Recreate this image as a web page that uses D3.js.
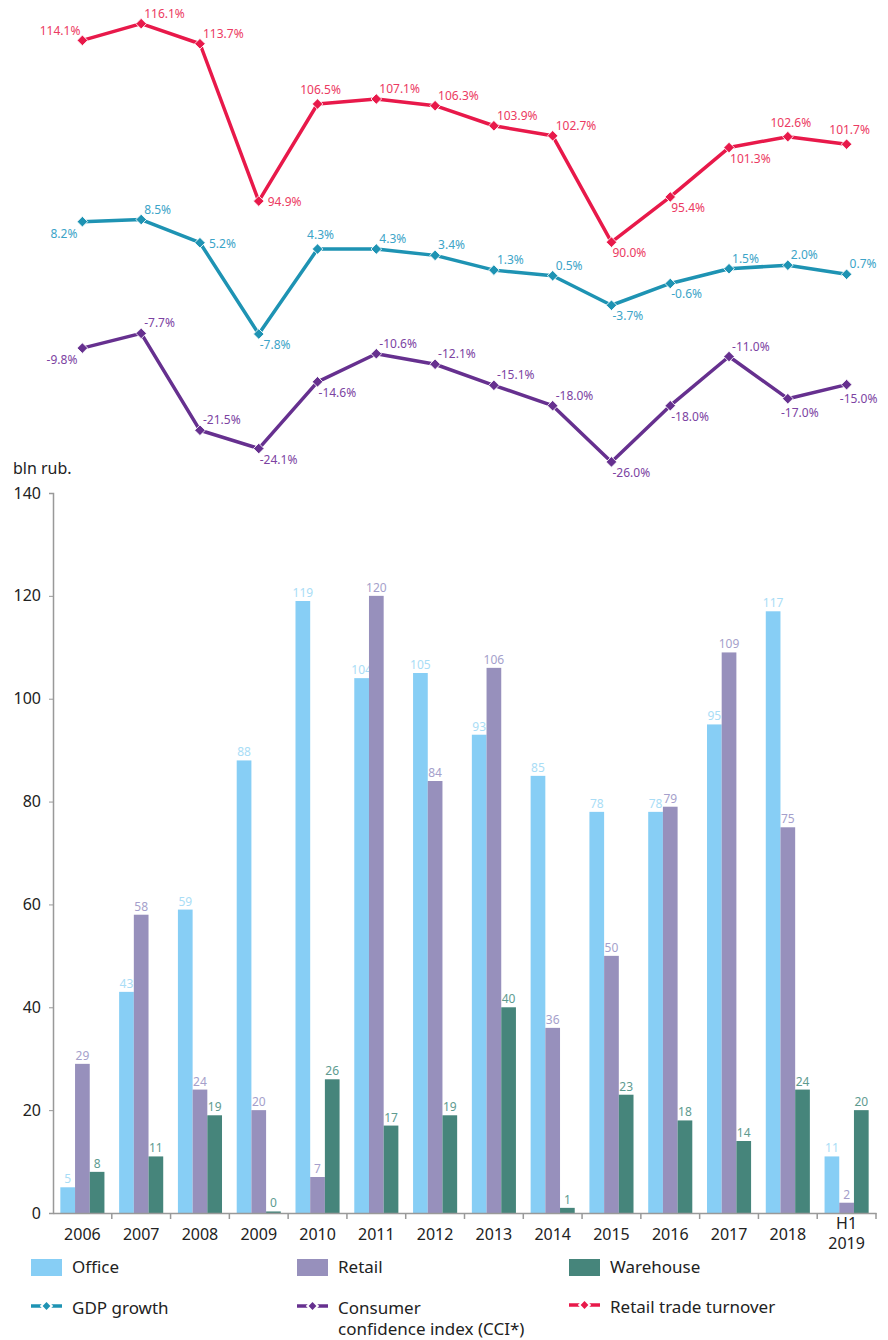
<!DOCTYPE html>
<html>
<head>
<meta charset="utf-8">
<script src="https://cdn.jsdelivr.net/npm/d3@7"></script>
<style>
body { margin: 0; background: #fff; }
svg { display: block; font-family: "Noto Sans", sans-serif; }
</style>
</head>
<body>
<svg></svg>
<script>
let years = ['2006','2007','2008','2009','2010','2011','2012','2013','2014','2015','2016','2017','2018','H1 2019']

let office    = [5, 43, 59, 88, 119, 104, 105, 93, 85, 78, 78, 95, 117, 11]
let retail    = [29, 58, 24, 20, 7, 120, 84, 106, 36, 50, 79, 109, 75, 2]
let warehouse = [8, 11, 19, 0.3, 26, 17, 19, 40, 1, 23, 18, 14, 24, 20]

let turnover = [114.1, 116.1, 113.7, 94.9, 106.5, 107.1, 106.3, 103.9, 102.7, 90.0, 95.4, 101.3, 102.6, 101.7]
let gdp      = [8.2, 8.5, 5.2, -7.8, 4.3, 4.3, 3.4, 1.3, 0.5, -3.7, -0.6, 1.5, 2.0, 0.7]
let cci      = [-9.8, -7.7, -21.5, -24.1, -14.6, -10.6, -12.1, -15.1, -18.0, -26.0, -18.0, -11.0, -17.0, -15.0]

let yTicks = [0, 20, 40, 60, 80, 100, 120, 140]

// where each point label sits relative to its marker
let turnoverPos = ['nw','ne','ne','e','n','ne','ne','ne','ne','se','se','se','n','n']
let gdpPos      = ['sw','ne','e','se','n','ne','ne','ne','ne','se','se','ne','ne','ne']
let cciPos      = ['sw','ne','ne','se','se','ne','ne','ne','ne','se','se','ne','s','s']

let width = 888
let height = 1340

let svg = d3.select('svg')
    .attr('width', width)
    .attr('height', height)

let x = d3.scaleBand()
    .domain(years)
    .range([53, 876])
    .padding(0)

let bw = x.bandwidth()

let xSub = d3.scaleBand()
    .domain(['office','retail','warehouse'])
    .range([bw * 0.125, bw * 0.875])

let y = d3.scaleLinear()
    .domain([0, 140])
    .range([1213, 493])

let yPct = d3.scaleLinear()
    .domain([-30, 10])
    .range([490, 209])

let yTurn = d3.scaleLinear()
    .domain([85, 120])
    .range([284, -9])

let barColors = { office: '#87CEF5', retail: '#9790BC', warehouse: '#46857B' }
let barLabelColors = { office: '#A9DDF6', retail: '#A59FCB', warehouse: '#5E9B90' }

let pct = (d) => d3.format('.1f')(d).replace('\u2212', '-') + '%'

// ---- bars ----
let barSeries = [
    { key: 'office', values: office },
    { key: 'retail', values: retail },
    { key: 'warehouse', values: warehouse }
]

let barGroup = svg.append('g')

barSeries.forEach((s) => {
    let g = barGroup.append('g')
    g.selectAll('rect')
        .data(s.values)
        .enter()
        .append('rect')
        .attr('x', (d, i) => x(years[i]) + xSub(s.key))
        .attr('y', (d) => y(d))
        .attr('width', xSub.bandwidth())
        .attr('height', (d) => y(0) - y(d))
        .attr('fill', barColors[s.key])

    g.selectAll('text')
        .data(s.values)
        .enter()
        .append('text')
        .attr('x', (d, i) => x(years[i]) + xSub(s.key) + xSub.bandwidth() / 2)
        .attr('y', (d) => y(d) - 4)
        .attr('text-anchor', 'middle')
        .attr('font-size', 12)
        .attr('fill', barLabelColors[s.key])
        .text((d) => d3.format('.0f')(d))
})

// ---- axes ----
let yAxis = svg.append('g')
    .attr('transform', 'translate(53,0)')
    .call(d3.axisLeft(y).tickValues(yTicks).tickSize(4).tickPadding(8))

yAxis.select('.domain').attr('stroke', '#999').attr('stroke-width', 1.5)
yAxis.selectAll('.tick line').attr('stroke', '#999')
yAxis.selectAll('.tick text')
    .attr('font-size', 16)
    .attr('font-family', '"Noto Sans", sans-serif')
    .attr('fill', '#222')

let xAxis = svg.append('g')
    .attr('transform', 'translate(0,1213)')
    .call(d3.axisBottom(x).tickSize(0).tickPadding(16).tickSizeOuter(0))

xAxis.select('.domain').attr('stroke', '#999').attr('stroke-width', 1.5)
xAxis.selectAll('.tick text')
    .attr('font-size', 16)
    .attr('font-family', '"Noto Sans", sans-serif')
    .attr('fill', '#222')
    .each(function (d) {
        let parts = d.split(' ')
        if (parts.length > 1) {
            let t = d3.select(this).text(null).attr('dy', null)
            t.append('tspan').attr('x', 0).attr('dy', 0).text(parts[0])
            t.append('tspan').attr('x', 0).attr('dy', 20).text(parts[1])
        }
    })

// boundary ticks between categories
let boundaries = years.slice(1).map((d) => x(d)).concat([x.range()[1]])
xAxis.selectAll('.sep')
    .data(boundaries)
    .enter()
    .append('line')
    .attr('class', 'sep')
    .attr('x1', (d) => d)
    .attr('x2', (d) => d)
    .attr('y1', 0)
    .attr('y2', 6)
    .attr('stroke', '#999')
    .attr('stroke-width', 1.5)

svg.append('text')
    .attr('x', 13)
    .attr('y', 474)
    .attr('font-size', 16)
    .attr('fill', '#222')
    .text('bln rub.')

// ---- lines ----
let labelPos = {
    nw: { a: 'end', dx: -2, dy: -5 },
    ne: { a: 'start', dx: 3, dy: -6 },
    e:  { a: 'start', dx: 9, dy: 5 },
    n:  { a: 'middle', dx: 3, dy: -10 },
    se: { a: 'start', dx: 1, dy: 15 },
    sw: { a: 'end', dx: -5, dy: 16 },
    s:  { a: 'middle', dx: 12, dy: 18 }
}

let lineSeries = [
    { values: turnover, pos: turnoverPos, scale: yTurn, color: '#E8194A', labelColor: '#EC3A62' },
    { values: gdp, pos: gdpPos, scale: yPct, color: '#1E93B3', labelColor: '#3CA4C8' },
    { values: cci, pos: cciPos, scale: yPct, color: '#66308F', labelColor: '#7C43A2' }
]

let cx = (i) => x(years[i]) + bw / 2

let diamond = d3.symbol().type(d3.symbolSquare).size(56)

lineSeries.forEach((s) => {
    let g = svg.append('g')
    let line = d3.line()
        .x((d, i) => cx(i))
        .y((d) => s.scale(d))

    g.append('path')
        .datum(s.values)
        .attr('d', line)
        .attr('fill', 'none')
        .attr('stroke', s.color)
        .attr('stroke-width', 3.5)
        .attr('stroke-linejoin', 'round')

    g.selectAll('path.mk')
        .data(s.values)
        .enter()
        .append('path')
        .attr('class', 'mk')
        .attr('d', diamond)
        .attr('transform', (d, i) => 'translate(' + cx(i) + ',' + s.scale(d) + ') rotate(45)')
        .attr('fill', s.color)
        .attr('stroke', '#fff')
        .attr('stroke-width', 0.8)

    g.selectAll('text')
        .data(s.values)
        .enter()
        .append('text')
        .attr('x', (d, i) => cx(i) + labelPos[s.pos[i]].dx)
        .attr('y', (d, i) => s.scale(d) + labelPos[s.pos[i]].dy)
        .attr('text-anchor', (d, i) => labelPos[s.pos[i]].a)
        .attr('font-size', 12)
        .attr('fill', s.labelColor)
        .text(pct)
})

// ---- legend ----
let legendCols = [31, 297, 569]

let barLegend = [
    { name: 'Office', color: barColors.office },
    { name: 'Retail', color: barColors.retail },
    { name: 'Warehouse', color: barColors.warehouse }
]

let lg = svg.append('g')
lg.selectAll('rect')
    .data(barLegend)
    .enter()
    .append('rect')
    .attr('x', (d, i) => legendCols[i])
    .attr('y', 1259)
    .attr('width', 31)
    .attr('height', 17)
    .attr('fill', (d) => d.color)

lg.selectAll('text.bl')
    .data(barLegend)
    .enter()
    .append('text')
    .attr('class', 'bl')
    .attr('x', (d, i) => legendCols[i] + 41)
    .attr('y', 1273)
    .attr('font-size', 17)
    .attr('fill', '#222')
    .text((d) => d.name)

let lineLegend = [
    { name: ['GDP growth'], color: lineSeries[1].color, y: 1306 },
    { name: ['Consumer', 'confidence index (CCI*)'], color: lineSeries[2].color, y: 1306 },
    { name: ['Retail trade turnover'], color: lineSeries[0].color, y: 1305 }
]

lineLegend.forEach((d, i) => {
    let x0 = legendCols[i]
    lg.append('line')
        .attr('x1', x0)
        .attr('x2', x0 + 31)
        .attr('y1', d.y)
        .attr('y2', d.y)
        .attr('stroke', d.color)
        .attr('stroke-width', 3.5)
    lg.append('path')
        .attr('d', diamond)
        .attr('transform', 'translate(' + (x0 + 15.5) + ',' + d.y + ') rotate(45)')
        .attr('fill', d.color)
        .attr('stroke', '#fff')
        .attr('stroke-width', 2)
    let t = lg.append('text')
        .attr('x', x0 + 41)
        .attr('y', d.y + 8)
        .attr('font-size', 17)
        .attr('fill', '#222')
    d.name.forEach((n, k) => {
        t.append('tspan')
            .attr('x', x0 + 41)
            .attr('dy', k === 0 ? 0 : 21)
            .text(n)
    })
})
</script>
</body>
</html>
